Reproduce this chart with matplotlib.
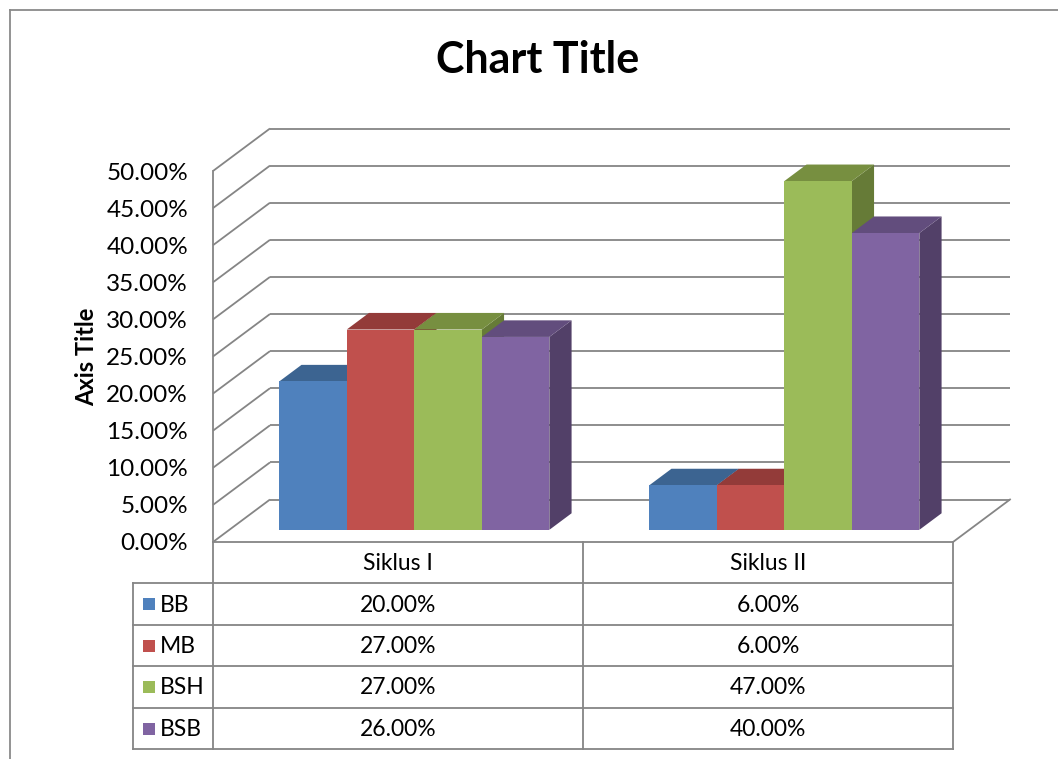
import matplotlib
matplotlib.use('Agg')
import matplotlib.pyplot as plt
from matplotlib.patches import Polygon, Rectangle
from matplotlib.ticker import PercentFormatter

# ---------------- data ----------------
categories = ['Siklus I', 'Siklus II']
series_names = ['BB', 'MB', 'BSH', 'BSB']
bb = [0.20, 0.06]
mb = [0.27, 0.06]
bsh = [0.27, 0.47]
bsb = [0.26, 0.40]
y_ticks = [0.00, 0.05, 0.10, 0.15, 0.20, 0.25, 0.30, 0.35, 0.40, 0.45, 0.50]
chart_title = 'Chart Title'
y_title = 'Axis Title'

series_values = [bb, mb, bsh, bsb]

# ---------------- style ----------------
front_cols = ['#4F81BD', '#C0504D', '#9BBB59', '#8064A2']
top_cols = ['#3C6491', '#933B39', '#778F40', '#624D7D']
side_cols = ['#34577F', '#7F3331', '#667B37', '#524068']
grid_col = '#858585'
line_col = '#858585'

plt.rcParams['font.family'] = ['Lato', 'DejaVu Sans']

W, H = 1058, 759
fig = plt.figure(figsize=(W / 100, H / 100), dpi=100)
fig.patch.set_facecolor('white')

# front plane of the 3D plot (pixels)
AX_L, AX_R, AX_TOP, AX_BOT = 213, 953, 171, 542
ax = fig.add_axes([AX_L / W, 1 - AX_BOT / H, (AX_R - AX_L) / W, (AX_BOT - AX_TOP) / H])
ax.set_xlim(0, len(categories))
ax.set_ylim(0, 0.5)
for s in ax.spines.values():
    s.set_visible(False)
ax.set_facecolor('none')

px_x = (AX_R - AX_L) / len(categories)      # pixels per category unit
px_y = (AX_BOT - AX_TOP) / 0.5               # pixels per value unit
DX = 57 / px_x                               # depth offset (data units)
DY = 42.5 / px_y

# gridlines: side wall + back wall
for v in y_ticks:
    ax.plot([0, DX], [v, v + DY], color=grid_col, lw=1.3, clip_on=False, zorder=1,
            solid_capstyle='butt')
    ax.plot([DX, len(categories) + DX], [v + DY, v + DY], color=grid_col, lw=1.3,
            clip_on=False, zorder=1, solid_capstyle='butt')
# front vertical axis line and floor right edge
ax.plot([0, 0], [0, 0.5], color=grid_col, lw=1.3, clip_on=False, zorder=1)
ax.plot([len(categories), len(categories) + DX], [0, DY], color=grid_col, lw=1.3,
        clip_on=False, zorder=1)

ax.set_yticks(y_ticks)
ax.yaxis.set_major_formatter(PercentFormatter(1.0, decimals=2))
ax.tick_params(axis='y', length=0, pad=18, labelsize=17.5, labelcolor='black')
ax.set_xticks([])

# bars
GAP = 0.135
BW = (1 - 2 * GAP) / len(series_names)
F0 = 0.286
BD = 0.39
z = 5
for c in range(len(categories)):
    for i, vals in enumerate(series_values):
        v = vals[c]
        x0 = c + GAP + i * BW + F0 * DX
        x1 = x0 + BW
        y0 = F0 * DY
        y1 = v + F0 * DY
        ddx, ddy = BD * DX, BD * DY
        side = Polygon([(x1, y0), (x1 + ddx, y0 + ddy), (x1 + ddx, y1 + ddy), (x1, y1)],
                       closed=True, facecolor=side_cols[i], edgecolor='none',
                       clip_on=False, zorder=z)
        top = Polygon([(x0, y1), (x1, y1), (x1 + ddx, y1 + ddy), (x0 + ddx, y1 + ddy)],
                      closed=True, facecolor=top_cols[i], edgecolor='none',
                      clip_on=False, zorder=z + 1)
        front = Rectangle((x0, y0), BW, v, facecolor=front_cols[i], edgecolor='none',
                          clip_on=False, zorder=z + 2)
        ax.add_patch(side)
        ax.add_patch(top)
        ax.add_patch(front)
        z += 3

# ---------------- overlay (pixel coordinates) ----------------
ov = fig.add_axes([0, 0, 1, 1])
ov.set_xlim(0, W)
ov.set_ylim(H, 0)
ov.axis('off')
ov.set_facecolor('none')

# outer chart border (cropped on right / bottom)
ov.plot([10, W + 5], [10, 10], color='#8a8a8a', lw=1.3)
ov.plot([10, 10], [10, H + 5], color='#8a8a8a', lw=1.3)

# title and axis title
ov.text(538, 60, chart_title, ha='center', va='center', fontsize=31, fontweight='bold')
ov.text(87, 357, y_title, ha='center', va='center', rotation=90, fontsize=17,
        fontweight='bold')

# data table
col_x = [133, AX_L, AX_L + px_x, AX_L + 2 * px_x]
row_y = [542, 583, 625, 666, 708, 749]
lw_t = 1.3
# header row
ov.plot([col_x[1], col_x[3]], [row_y[0], row_y[0]], color=line_col, lw=lw_t)
for x in col_x[1:]:
    ov.plot([x, x], [row_y[0], row_y[-1]], color=line_col, lw=lw_t)
ov.plot([col_x[0], col_x[0]], [row_y[1], row_y[-1]], color=line_col, lw=lw_t)
for y in row_y[1:]:
    ov.plot([col_x[0], col_x[3]], [y, y], color=line_col, lw=lw_t)

for c, cat in enumerate(categories):
    cx = (col_x[c + 1] + col_x[c + 2]) / 2
    ov.text(cx, (row_y[0] + row_y[1]) / 2 + 1, cat, ha='center', va='center', fontsize=16.5)

for i, name in enumerate(series_names):
    cy = (row_y[i + 1] + row_y[i + 2]) / 2
    ov.add_patch(Rectangle((143, cy - 6), 12, 12, facecolor=front_cols[i], edgecolor='none'))
    ov.text(160, cy + 1, name, ha='left', va='center', fontsize=16.5)
    for c in range(len(categories)):
        cx = (col_x[c + 1] + col_x[c + 2]) / 2
        ov.text(cx, cy + 1, f"{series_values[i][c] * 100:.2f}%", ha='center', va='center',
                fontsize=16.5)

fig.savefig('out.png', dpi=100)
